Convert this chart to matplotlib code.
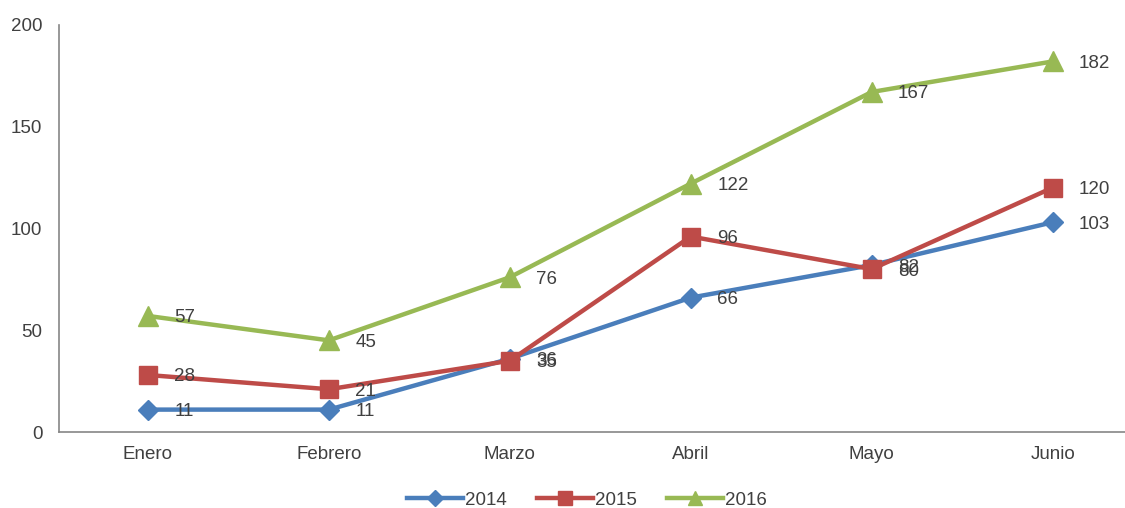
import matplotlib.pyplot as plt

plt.rcParams['font.family'] = ['Liberation Sans', 'DejaVu Sans']

months = ['Enero', 'Febrero', 'Marzo', 'Abril', 'Mayo', 'Junio']
v2014 = [11, 11, 36, 66, 82, 103]
v2015 = [28, 21, 35, 96, 80, 120]
v2016 = [57, 45, 76, 122, 167, 182]

series = [
    ('2014', v2014, '#4A7EBB', 'D', 10.5),
    ('2015', v2015, '#BE4B48', 's', 13),
    ('2016', v2016, '#98B954', '^', 14),
]

fig = plt.figure(figsize=(11.25, 5.08), dpi=100)
ax = fig.add_axes([0.0524, 0.1496, 0.9476, 0.8016])

x = list(range(len(months)))
for name, vals, color, marker, ms in series:
    ax.plot(x, vals, color=color, linewidth=3.2, marker=marker, markersize=ms,
            label=name, zorder=3)
    for xi, v in zip(x, vals):
        ax.annotate(str(v), (xi, v), xytext=(19, 0), textcoords='offset points',
                    ha='left', va='center_baseline', fontsize=13.5, color='#404040', zorder=4)

ax.set_xlim(-0.492, 5.40)
ax.set_ylim(0, 200)
ax.set_yticks([0, 50, 100, 150, 200])
ax.set_xticks(x)
ax.set_xticklabels(months)
ax.tick_params(axis='both', length=0, labelsize=13.5, labelcolor='#404040')
ax.tick_params(axis='y', pad=12)
ax.tick_params(axis='x', pad=10)
for s in ['top', 'right']:
    ax.spines[s].set_visible(False)
for s in ['left', 'bottom']:
    ax.spines[s].set_color('#868686')
    ax.spines[s].set_linewidth(1.2)

ax.legend(loc='upper center', bbox_to_anchor=(0.495, -0.105), ncol=3, frameon=False,
          fontsize=13.5, handlelength=3.0, columnspacing=1.6, handletextpad=0.1,
          markerscale=0.75, labelcolor='#404040')

plt.savefig('out.png', dpi=100)
